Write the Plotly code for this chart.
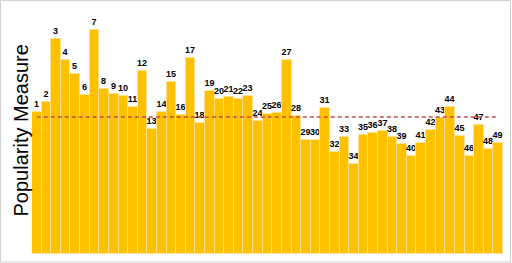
import plotly.graph_objects as go

categories = list(range(1, 50))
labels = [str(c) for c in categories]
values = [142.3, 152.0, 215.3, 194.0, 180.3, 159.3, 224.0, 165.3, 160.0, 158.3,
          147.3, 183.3, 125.0, 141.6, 171.6, 139.3, 196.0, 131.3, 163.3, 155.3,
          157.0, 154.6, 158.0, 132.6, 140.3, 140.6, 194.3, 137.6, 113.6, 114.3,
          145.6, 101.6, 117.0, 90.3, 119.3, 121.3, 123.3, 117.0, 110.3, 97.6,
          111.3, 123.6, 136.0, 146.6, 118.0, 98.3, 129.3, 105.3, 111.3]
threshold = 137.0

W, H = 512, 263
L, R, T, B = 32, 9, 20, 9
pw, ph = W - L - R, H - T - B

fig = go.Figure()
fig.add_trace(go.Bar(
    x=categories, y=values, text=labels,
    textposition="outside", constraintext="none", cliponaxis=False,
    textfont=dict(family="Liberation Sans", size=9, color="black", weight="bold"),
    marker=dict(color="#FFC000", line=dict(color="#FFE28F", width=1)),
    showlegend=False, hoverinfo="skip",
))
fig.add_trace(go.Scatter(
    x=[categories[0], categories[-1]], y=[threshold, threshold],
    mode="lines", line=dict(color="#C0504D", width=1.5, dash="4px,3px"),
    showlegend=False, hoverinfo="skip",
))

def px_x(p):
    return (p - L) / pw

def px_y(p):
    return (H - B - p) / ph

fig.add_shape(type="rect", xref="paper", yref="paper",
              x0=px_x(0.5), x1=px_x(510.5), y0=px_y(262), y1=px_y(0.5),
              line=dict(color="#D0D0D0", width=1))
fig.add_annotation(text="Popularity Measure", xref="paper", yref="paper",
                   x=px_x(20), y=px_y(130.5), textangle=-90, showarrow=False,
                   xanchor="center", yanchor="middle",
                   font=dict(family="Liberation Sans", size=20, color="black"))

fig.update_layout(
    width=W, height=H, margin=dict(l=L, r=R, t=T, b=B),
    paper_bgcolor="white", plot_bgcolor="white",
    bargap=0,
    xaxis=dict(range=[0.5, 49.5], showticklabels=False, showgrid=False,
               zeroline=False, showline=False, ticks=""),
    yaxis=dict(range=[0, ph], showticklabels=False, showgrid=False,
               zeroline=False, showline=False, ticks=""),
)
fig.write_html("out.html")
